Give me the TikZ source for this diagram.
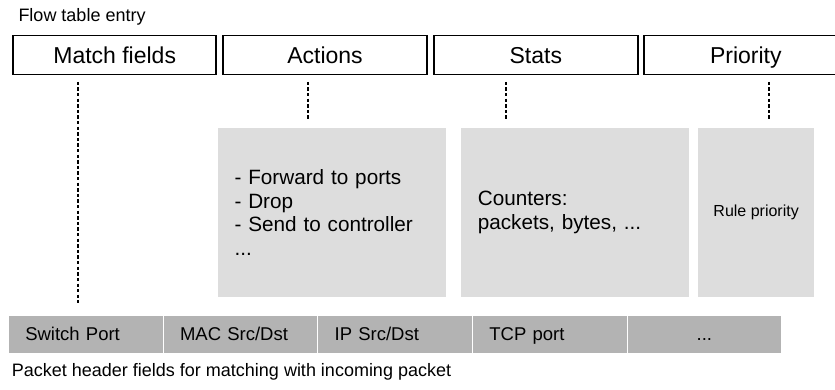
\documentclass[tikz,border=0pt]{standalone}
\usepackage{fontspec}
\setmainfont{Liberation Sans}
\definecolor{lightg}{HTML}{DDDDDD}
\definecolor{barg}{HTML}{B3B3B3}
\begin{document}
\begin{tikzpicture}[x=1pt,y=-1pt,
  topbox/.style={draw=black, line width=1.8pt, minimum width=203pt, minimum height=39pt, inner sep=0pt,
    font=\fontsize{23}{27}\selectfont, text height=16.9pt, text depth=0.5pt},
  graybox/.style={fill=lightg, draw=none, inner ysep=0pt, inner xsep=16.5pt, align=left,
    font=\fontsize{20.7}{23.5}\selectfont},
  cell/.style={fill=barg, draw=white, line width=0.8pt, minimum height=38.3pt, inner xsep=17pt, inner ysep=0pt,
    text width=120.7pt, align=left, font=\fontsize{18.5}{22}\selectfont, text height=13.3pt, text depth=0.4pt},
  dotline/.style={draw=black, line width=2pt, dash pattern=on 3.3pt off 2.3pt},
  plain/.style={inner sep=0pt, font=\fontsize{18}{22}\selectfont}
]
\useasboundingbox (0,0) rectangle (835,390);
\clip (0,0) rectangle (835,390);

% title
\node[plain, anchor=base west] (title) at (18.3,21.2) {Flow table entry};

% top boxes
\node[topbox] (match) at (114.7,55) {Match fields};
\node[topbox, minimum width=204pt] (actions) at (325,55) {Actions};
\node[topbox, minimum width=204pt] (stats) at (535.8,55) {Stats};
\node[topbox, minimum width=204pt] (priority) at (745.8,55) {Priority};

% gray detail boxes
\node[graybox, text width=194.7pt, minimum height=168.7pt] (actg) at (331.85,212.35)
  {- Forward to ports\\- Drop\\- Send to controller\\...};
\node[graybox, text width=195pt, minimum height=168.7pt] (statg) at (575.3,212.35)
  {Counters:\\packets, bytes, ...};
\node[graybox, inner xsep=0pt, minimum width=115.7pt, minimum height=168.7pt, align=center,
  font=\fontsize{16}{19}\selectfont] (prig) at (756.15,212.35) {Rule priority};

% bottom bar
\node[cell] (sw) at (85.65,334.15) {Switch Port};
\node[cell] (mac) at (240.35,334.15) {MAC Src/Dst};
\node[cell] (ip) at (395.05,334.15) {IP Src/Dst};
\node[cell] (tcp) at (549.75,334.15) {TCP port};
\node[cell, align=center] (more) at (704.35,334.15) {...};

% caption
\node[plain, anchor=base west] (caption) at (11.7,376) {Packet header fields for matching with incoming packet};

% dotted connectors
\coordinate (mx) at (78.3,0);
\coordinate (ax) at (308.3,0);
\coordinate (sx) at (506,0);
\coordinate (px) at (769.3,0);
\draw[dotline, shorten <=6.5pt, shorten >=12pt] (match.south -| mx) -- (sw.north -| mx);
\draw[dotline, shorten <=6.5pt, shorten >=8pt] (actions.south -| ax) -- (actg.north -| ax);
\draw[dotline, shorten <=6.5pt, shorten >=8pt] (stats.south -| sx) -- (statg.north -| sx);
\draw[dotline, shorten <=6.5pt, shorten >=8pt] (priority.south -| px) -- (prig.north -| px);
\end{tikzpicture}
\end{document}
